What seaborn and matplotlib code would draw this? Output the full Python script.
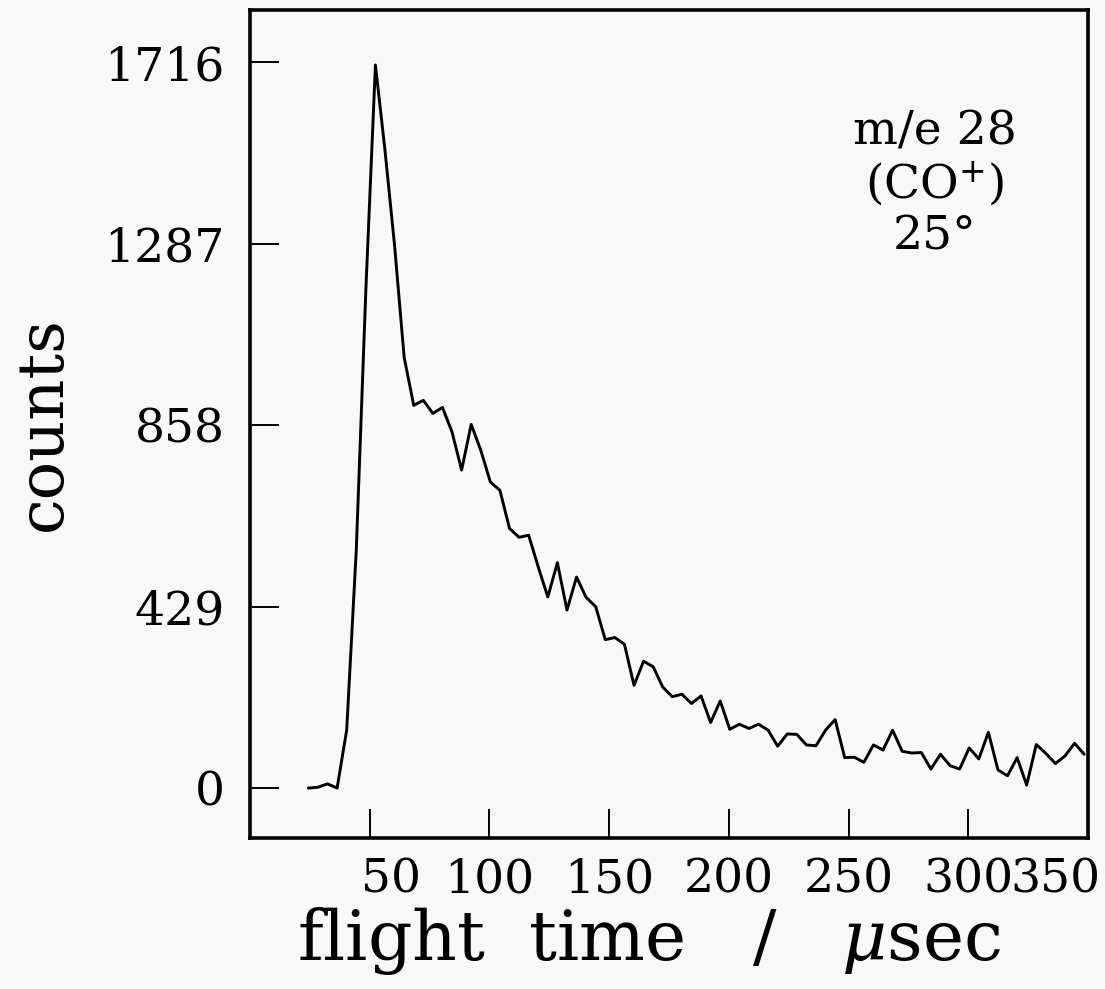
import matplotlib
matplotlib.use("Agg")
import matplotlib.pyplot as plt
import matplotlib.transforms as mtransforms
import seaborn as sns
import pandas as pd

# flight time (microseconds) and counts
flight_time = [24.4, 28.4, 32.4, 36.4, 40.4, 44.4, 48.4, 52.4, 56.4, 60.4,
               64.4, 68.4, 72.4, 76.4, 80.4, 84.4, 88.4, 92.4, 96.4, 100.4,
               104.4, 108.4, 112.4, 116.4, 120.4, 124.4, 128.4, 132.4, 136.4, 140.4,
               144.4, 148.4, 152.4, 156.4, 160.4, 164.4, 168.4, 172.4, 176.4, 180.4,
               184.4, 188.4, 192.4, 196.4, 200.4, 204.4, 208.4, 212.4, 216.4, 220.4,
               224.4, 228.4, 232.4, 236.4, 240.4, 244.4, 248.4, 252.4, 256.4, 260.4,
               264.4, 268.4, 272.4, 276.4, 280.4, 284.4, 288.4, 292.4, 296.4, 300.4,
               304.4, 308.4, 312.4, 316.4, 320.4, 324.4, 328.4, 332.4, 336.4, 340.4,
               344.4, 348.4]
counts = [0, 2, 10, 0, 137, 562, 1177, 1710, 1508, 1283,
          1019, 905, 917, 886, 900, 842, 752, 860, 799, 724,
          704, 614, 593, 598, 523, 452, 533, 421, 499, 451,
          429, 351, 356, 340, 243, 300, 287, 239, 216, 222,
          200, 218, 155, 206, 139, 151, 141, 151, 137, 99,
          128, 127, 102, 100, 137, 162, 72, 73, 61, 102,
          90, 137, 87, 83, 84, 45, 80, 53, 45, 95,
          69, 132, 43, 29, 72, 7, 103, 82, 58, 76,
          106, 80]

x_ticks = [50, 100, 150, 200, 250, 300, 350]
x_tick_labels = ["50", "100", "150", "200", "250", "300", "350"]
y_ticks = [0, 429, 858, 1287, 1716]
y_tick_labels = ["0", "429", "858", "1287", "1716"]
annotation = "m/e 28\n(CO$^{+}$)\n25°"

df = pd.DataFrame({"t": flight_time, "counts": counts})

sns.set_style("ticks")
plt.rcParams["font.family"] = ["DejaVu Serif", "DejaVu Sans"]
plt.rcParams["mathtext.fontset"] = "dejavuserif"
plt.rcParams["text.color"] = "black"
plt.rcParams["axes.labelcolor"] = "black"

fig = plt.figure(figsize=(11.05, 9.89), dpi=100)
fig.patch.set_facecolor("#f8f8f8")
ax = fig.add_axes([0.2262, 0.1527, 0.7584, 0.8372])
ax.set_facecolor("#f8f8f8")

sns.lineplot(data=df, x="t", y="counts", color="black", linewidth=2.1, ax=ax)

ax.set_xlim(0, 350)
ax.set_ylim(-118, 1840)

ax.set_xticks(x_ticks)
ax.set_xticklabels(x_tick_labels)
ax.set_yticks(y_ticks)
ax.set_yticklabels(y_tick_labels)

ax.tick_params(axis="both", direction="in", length=21, width=1.4,
               labelsize=34, colors="black")
ax.tick_params(axis="y", pad=18)
ax.tick_params(axis="x", pad=14)

# shift first / last x tick labels like the reference
labels = ax.get_xticklabels()
labels[0].set_transform(labels[0].get_transform() +
                        mtransforms.ScaledTranslation(0.21, 0, fig.dpi_scale_trans))
labels[-1].set_transform(labels[-1].get_transform() +
                         mtransforms.ScaledTranslation(-0.33, 0, fig.dpi_scale_trans))

for s in ax.spines.values():
    s.set_linewidth(2.6)
    s.set_color("black")

ax.set_xlabel("flight  time   /   $\\mu$sec", fontsize=50, labelpad=2)
ax.xaxis.label.set_x(0.477)
ax.set_ylabel("counts", fontsize=46, labelpad=22)

ax.text(0.817, 0.789, annotation, transform=ax.transAxes, ha="center",
        va="center", fontsize=34, linespacing=1.15, multialignment="center",
        color="black")

fig.savefig("out.png", dpi=100, facecolor=fig.get_facecolor())
